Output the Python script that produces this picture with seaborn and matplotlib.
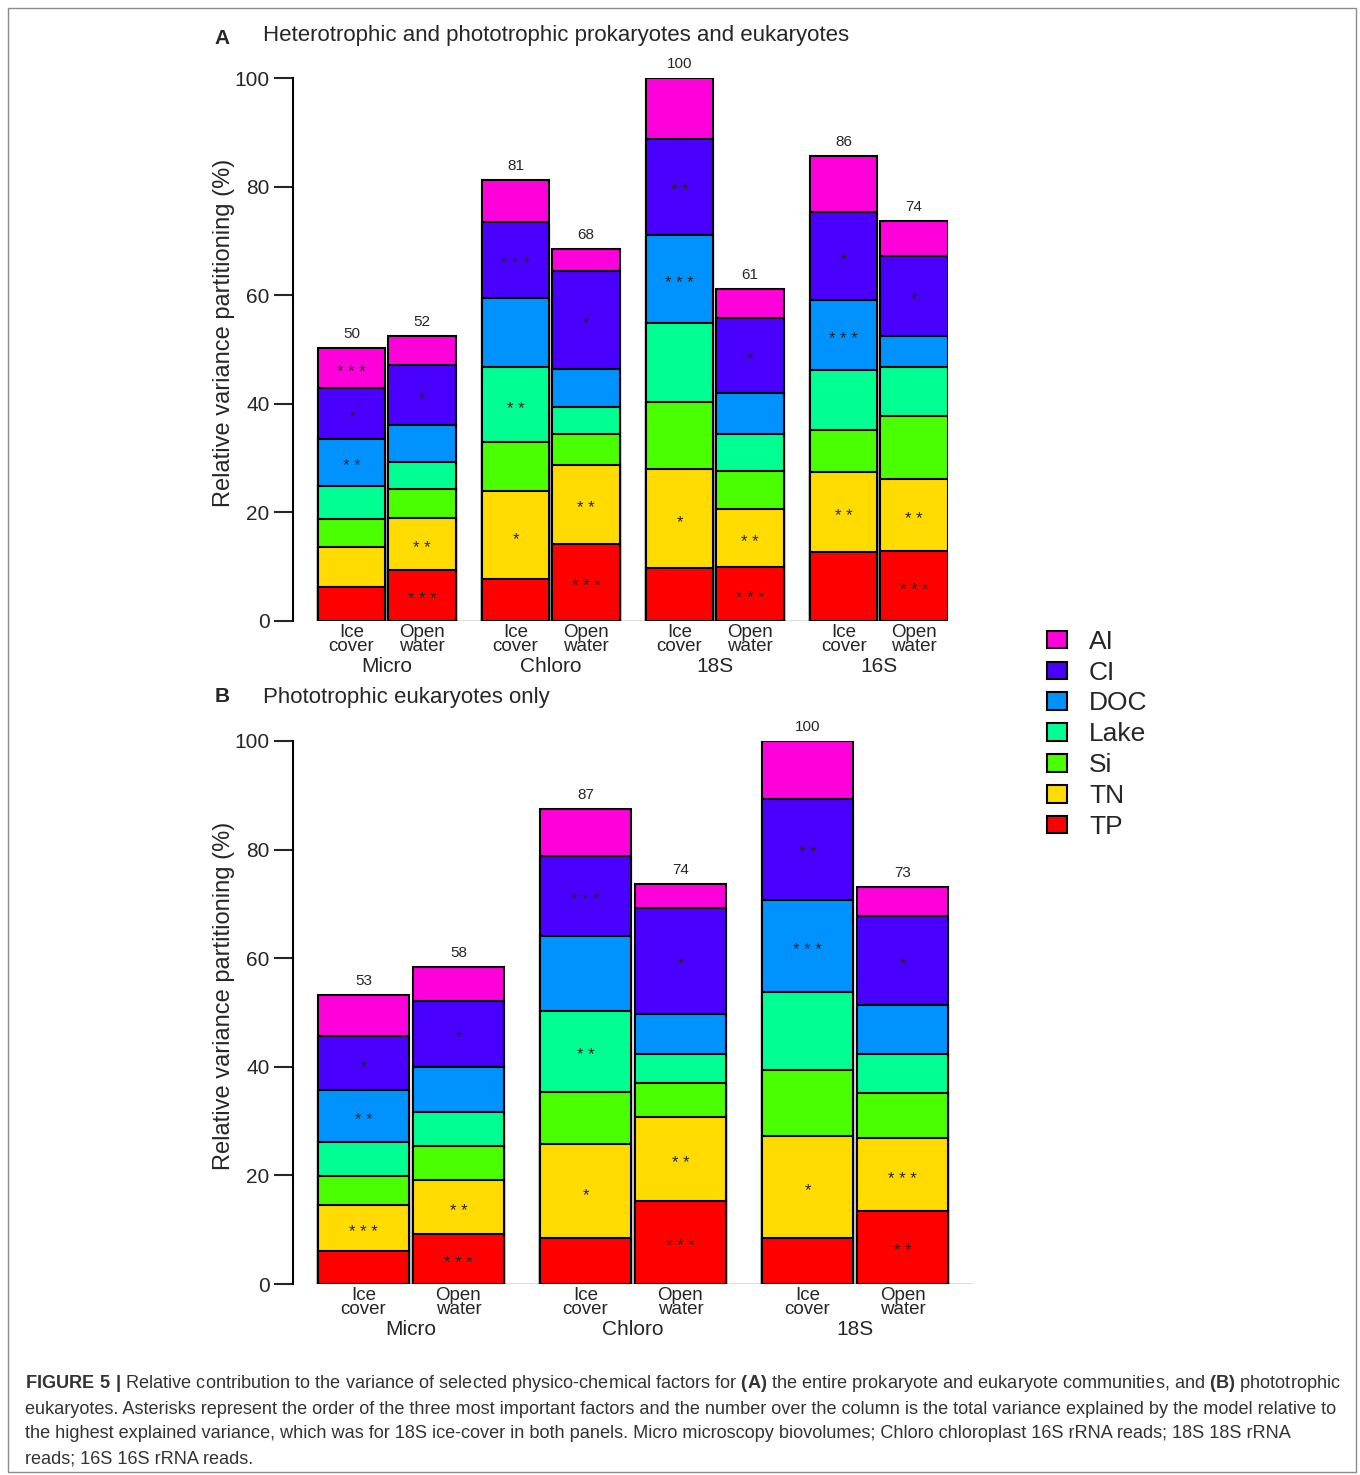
import numpy as np
import pandas as pd
import seaborn as sns
import matplotlib.pyplot as plt
from matplotlib.patches import Patch, Rectangle

# stacking order, bottom to top (R rainbow(7))
factors = ['TP', 'TN', 'Si', 'Lake', 'DOC', 'CI', 'AI']
colors = ['#FF0000', '#FFDB00', '#49FF00', '#00FF92', '#0092FF', '#4900FF', '#FF00DB']
conditions = ['Ice\ncover', 'Open\nwater']

# Panel A: Micro, Chloro, 18S, 16S  x  (ice cover, open water)
a_groups = ['Micro', 'Chloro', '18S', '16S']
a_TP = [6.3, 9.4, 7.7, 14.2, 9.7, 10.0, 12.7, 12.9]
a_TN = [7.4, 9.5, 16.2, 14.5, 18.3, 10.6, 14.7, 13.2]
a_Si = [5.1, 5.5, 9.0, 5.7, 12.4, 7.1, 7.8, 11.7]
a_Lake = [6.0, 4.9, 13.8, 5.0, 14.4, 6.7, 11.0, 9.0]
a_DOC = [8.7, 6.8, 12.8, 7.0, 16.2, 7.5, 12.9, 5.7]
a_CI = [9.4, 11.0, 13.9, 18.1, 17.8, 13.9, 16.2, 14.8]
a_AI = [7.4, 5.4, 7.9, 4.0, 11.2, 5.3, 10.3, 6.4]
a_totals = [50, 52, 81, 68, 100, 61, 86, 74]
a_stars = [
    {'AI': '* * *', 'CI': '*', 'DOC': '* *'},
    {'CI': '*', 'TN': '* *', 'TP': '* * *'},
    {'CI': '* * *', 'Lake': '* *', 'TN': '*'},
    {'CI': '*', 'TN': '* *', 'TP': '* * *'},
    {'CI': '* *', 'DOC': '* * *', 'TN': '*'},
    {'CI': '*', 'TN': '* *', 'TP': '* * *'},
    {'CI': '*', 'DOC': '* * *', 'TN': '* *'},
    {'CI': '*', 'TN': '* *', 'TP': '* * *'},
]

# Panel B: Micro, Chloro, 18S  x  (ice cover, open water)
b_groups = ['Micro', 'Chloro', '18S']
b_TP = [6.0, 9.2, 8.4, 15.2, 8.5, 13.4]
b_TN = [8.5, 10.0, 17.4, 15.6, 18.8, 13.4]
b_Si = [5.3, 6.2, 9.6, 6.3, 12.1, 8.3]
b_Lake = [6.4, 6.2, 14.9, 5.3, 14.3, 7.2]
b_DOC = [9.5, 8.4, 13.7, 7.3, 17.0, 9.1]
b_CI = [10.0, 12.1, 14.8, 19.6, 18.6, 16.4]
b_AI = [7.5, 6.3, 8.7, 4.3, 10.7, 5.3]
b_totals = [53, 58, 87, 74, 100, 73]
b_stars = [
    {'CI': '*', 'DOC': '* *', 'TN': '* * *'},
    {'CI': '*', 'TN': '* *', 'TP': '* * *'},
    {'CI': '* * *', 'Lake': '* *', 'TN': '*'},
    {'CI': '*', 'TN': '* *', 'TP': '* * *'},
    {'CI': '* *', 'DOC': '* * *', 'TN': '*'},
    {'CI': '*', 'TN': '* * *', 'TP': '* *'},
]

sns.set_style('ticks')
plt.rcParams['font.family'] = ['Liberation Sans', 'DejaVu Sans']
plt.rcParams['mathtext.fontset'] = 'custom'
plt.rcParams['mathtext.rm'] = 'Liberation Sans'
plt.rcParams['mathtext.bf'] = 'Liberation Sans:bold'

W, H = 1360, 1475
fig = plt.figure(figsize=(W / 100, H / 100), dpi=100)


def draw_panel(ax, groups, parts, totals, stars, group_step, xleft, xright, line_end):
    xpos = np.array([g * group_step + c for g in range(len(groups)) for c in range(2)])
    df = pd.DataFrame(parts, index=factors).T
    cum = df.cumsum(axis=1)
    # overlay cumulative bars, tallest first
    for f, col in reversed(list(zip(factors, colors))):
        sns.barplot(x=xpos, y=cum[f].values, native_scale=True, color=col, saturation=1,
                    width=0.957, edgecolor='black', linewidth=1.5, errorbar=None, ax=ax, zorder=2)
    ax.set_xlim(xleft, xright)
    ax.set_ylim(0, 100)
    # baseline
    x0 = (xpos[0] - 0.48 - xleft) / (xright - xleft)
    x1 = (line_end - xleft) / (xright - xleft)
    ax.axhline(0, xmin=x0, xmax=x1, color='#555555', lw=1, zorder=1)

    for i, x in enumerate(xpos):
        ax.annotate(str(totals[i]), (x, cum.iloc[i, -1]), xytext=(0, 5), textcoords='offset points',
                    ha='center', va='bottom', fontsize=11, annotation_clip=False)
        for f, s in stars[i].items():
            k = factors.index(f)
            lo = cum.iloc[i, k - 1] if k > 0 else 0
            mid = (lo + cum.iloc[i, k]) / 2
            ax.annotate(s, (x, mid), xytext=(0, -3), textcoords='offset points',
                        ha='center', va='center', fontsize=12, zorder=5)

    ax.set_xticks(xpos)
    ax.set_xticklabels(conditions * len(groups), linespacing=0.8)
    ax.tick_params(axis='x', length=0, pad=2, labelsize=13.5)
    for g, name in enumerate(groups):
        ax.annotate(name, xy=(g * group_step + 0.5, 0), xycoords=('data', 'axes fraction'),
                    xytext=(0, -26), textcoords='offset points', ha='center', va='top', fontsize=15)

    ax.set_yticks([0, 20, 40, 60, 80, 100])
    ax.tick_params(axis='y', length=14, width=1.5, labelsize=15, pad=3)
    sns.despine(ax=ax, bottom=True)
    ax.spines['left'].set_linewidth(1.5)
    ax.spines['left'].set_color('black')
    ax.set_xlabel('')
    ax.set_ylabel('Relative variance partitioning (%)', fontsize=17)
    ax.yaxis.set_label_coords(-58 / (ax.get_position().width * W), 0.53)


ax_a = fig.add_axes([293 / W, 1 - 621 / H, (948 - 293) / W, (621 - 78) / H])
draw_panel(ax_a, a_groups, [a_TP, a_TN, a_Si, a_Lake, a_DOC, a_CI, a_AI], a_totals, a_stars,
           2.326, -0.830, 8.458, 8.458)

ax_b = fig.add_axes([293 / W, 1 - 1284 / H, (973 - 293) / W, (1284 - 741) / H])
draw_panel(ax_b, b_groups, [b_TP, b_TN, b_Si, b_Lake, b_DOC, b_CI, b_AI], b_totals, b_stars,
           2.337, -0.742, 6.416, 6.416)

fig.text(222 / W, 1 - 38 / H, 'A', fontsize=15, weight='bold', ha='center', va='center')
fig.text(263 / W, 1 - 35 / H, 'Heterotrophic and phototrophic prokaryotes and eukaryotes',
         fontsize=16, ha='left', va='center')
fig.text(222 / W, 1 - 697 / H, 'B', fontsize=15, weight='bold', ha='center', va='center')
fig.text(263 / W, 1 - 698 / H, 'Phototrophic eukaryotes only', fontsize=16, ha='left', va='center')

handles = [Patch(facecolor=c, edgecolor='black', linewidth=1.5, label=f)
           for f, c in reversed(list(zip(factors, colors)))]
fig.legend(handles=handles, loc='upper left', bbox_to_anchor=(1023 / W, 1 - 606 / H), frameon=False,
           fontsize=19, handlelength=0.75, handleheight=0.65, labelspacing=0.26, handletextpad=0.85)

fig.add_artist(Rectangle((8 / W, 1 - 1472 / H), (1356 - 8) / W, (1472 - 8) / H, transform=fig.transFigure,
                         fill=False, edgecolor='#8c8c8c', lw=1))

caption = [
    r"$\mathbf{FIGURE\ 5\ |}$ Relative contribution to the variance of selected physico-chemical factors for "
    r"$\mathbf{(A)}$ the entire prokaryote and eukaryote communities, and $\mathbf{(B)}$ phototrophic",
    "eukaryotes. Asterisks represent the order of the three most important factors and the number over the "
    "column is the total variance explained by the model relative to",
    "the highest explained variance, which was for 18S ice-cover in both panels. Micro microscopy biovolumes; "
    "Chloro chloroplast 16S rRNA reads; 18S 18S rRNA",
    "reads; 16S 16S rRNA reads.",
]
for i, line in enumerate(caption):
    fig.text(25 / W, 1 - (1384 + 25 * i) / H, line, fontsize=13.1,
             color='#333333', ha='left', va='center')

fig.savefig('out.png', dpi=100)
